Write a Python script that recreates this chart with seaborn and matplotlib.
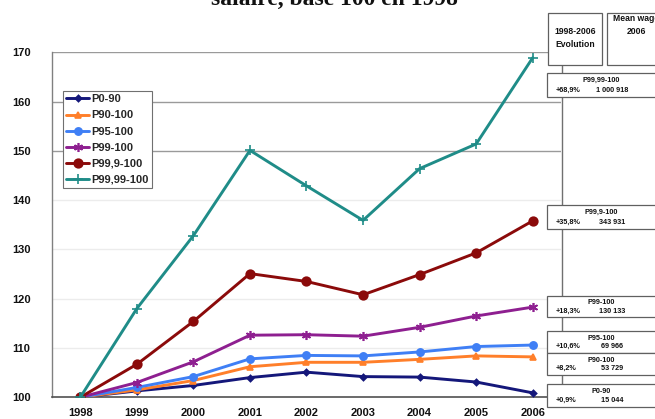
import matplotlib
matplotlib.use("Agg")
import matplotlib.pyplot as plt
import seaborn as sns
import pandas as pd
from matplotlib.patches import Rectangle
from matplotlib.lines import Line2D

sns.set_theme(style="white")
plt.rcParams['font.family'] = ['Liberation Sans', 'DejaVu Sans']

# ---------------- data ----------------
years = [1998, 1999, 2000, 2001, 2002, 2003, 2004, 2005, 2006]
series_names = ["P0-90", "P90-100", "P95-100", "P99-100", "P99,9-100", "P99,99-100"]
p0_90 = [100, 101.3, 102.4, 104.0, 105.1, 104.2, 104.1, 103.1, 100.9]
p90_100 = [100, 101.5, 103.4, 106.2, 107.1, 107.1, 107.7, 108.4, 108.2]
p95_100 = [100, 102.0, 104.2, 107.8, 108.5, 108.4, 109.2, 110.3, 110.6]
p99_100 = [100, 103.0, 107.2, 112.6, 112.7, 112.4, 114.2, 116.5, 118.3]
p999_100 = [100, 106.7, 115.4, 125.1, 123.5, 120.8, 124.9, 129.3, 135.8]
p9999_100 = [100, 118.0, 132.8, 150.1, 142.9, 135.9, 146.4, 151.4, 168.9]
values = [p0_90, p90_100, p95_100, p99_100, p999_100, p9999_100]

title_text = "salaire, base 100 en 1998"
yticks = [100, 110, 120, 130, 140, 150, 160, 170]
header_evol = "1998-2006\nEvolution"
header_wage = "Mean wage\n2006"
box_labels = ["P99,99-100", "P99,9-100", "P99-100", "P95-100", "P90-100", "P0-90"]
box_evol = ["+68,9%", "+35,8%", "+18,3%", "+10,6%", "+8,2%", "+0,9%"]
box_wage = ["1 000 918", "343 931", "130 133", "69 966", "53 729", "15 044"]

# ---------------- styles ----------------
colors = ["#14177a", "#ff7f2a", "#3f7ff5", "#8e1f90", "#8b0a0a", "#1f8c88"]
markers = ["D", "^", "o", (6, 2, 0), "o", "+"]
msizes = [3.2, 5, 5.2, 6.5, 6.2, 7]

W, H = 655, 419
fig = plt.figure(figsize=(W / 100, H / 100), dpi=100)

def fx(px):
    return px / W

def fy(py):
    return 1 - py / H

ax_left, ax_right, ax_top, ax_bottom = 52, 561, 52.3, 397.3
ax = fig.add_axes([fx(ax_left), fy(ax_bottom), fx(ax_right - ax_left), (ax_bottom - ax_top) / H])

df = pd.DataFrame({
    "year": years * len(series_names),
    "value": [v for s in values for v in s],
    "series": [n for n in series_names for _ in years],
})

for name, c, m, ms in zip(series_names, colors, markers, msizes):
    sub = df[df["series"] == name]
    sns.lineplot(data=sub, x="year", y="value", ax=ax, color=c, lw=2.1,
                 marker=m, markersize=ms, markeredgecolor=c, markerfacecolor=c,
                 markeredgewidth=1.2, legend=False, zorder=5)

ax.set_xlim(1997.5, 2006.5)
ax.set_ylim(100, 170)
ax.set_yticks(yticks)
ax.set_xticks(years)
ax.set_xticks([y + 0.5 for y in years[:-1]] + [1997.5], minor=True)
ax.set_xlabel("")
ax.set_ylabel("")

for yv in yticks[1:]:
    col = "#9a9a9a" if yv >= 150 else "#ececec"
    ax.axhline(yv, color=col, lw=1.0, zorder=1)

for s in ["top", "right"]:
    ax.spines[s].set_visible(False)
ax.spines["left"].set_color("#808080")
ax.spines["bottom"].set_color("#505050")
ax.spines["left"].set_linewidth(1.0)
ax.spines["bottom"].set_linewidth(1.2)

ax.tick_params(axis="y", which="major", direction="out", length=3, width=1, color="#808080",
               labelsize=8, pad=12.5)
ax.tick_params(axis="x", which="major", length=0, labelsize=8, pad=8)
ax.tick_params(axis="x", which="minor", direction="out", length=3.5, width=1, color="#606060")
for lab in ax.get_xticklabels() + ax.get_yticklabels():
    lab.set_fontweight("bold")
    lab.set_color("#111111")

# legend
handles = [Line2D([0], [0], color=c, lw=2.1, marker=m, markersize=ms,
                  markeredgecolor=c, markerfacecolor=c, markeredgewidth=1.2)
           for c, m, ms in zip(colors, markers, msizes)]
leg = fig.legend(handles, series_names, loc="upper left",
                 bbox_to_anchor=(fx(62.5), fy(91)), frameon=True, fancybox=False,
                 prop={"weight": "bold", "size": 8}, handlelength=2.1,
                 handletextpad=0.15, labelspacing=0.55, borderpad=0.3,
                 borderaxespad=0, framealpha=1)
leg.get_frame().set_edgecolor("#707070")
leg.get_frame().set_linewidth(0.8)

# title (partially cropped at the top)
fig.text(fx(334), fy(5), title_text, ha="center", va="baseline",
         fontsize=17, fontweight="bold", family="Liberation Serif", color="#111111")

# connector line
fig.add_artist(Line2D([fx(562), fx(562)], [fy(65), fy(384)], color="#707070", lw=1.0,
                      transform=fig.transFigure, zorder=8))

def box(x0, y0, x1, y1):
    r = Rectangle((fx(x0), fy(y1)), fx(x1 - x0), (y1 - y0) / H, transform=fig.transFigure,
                  facecolor="white", edgecolor="#606060", lw=0.9, zorder=9)
    fig.add_artist(r)

# header boxes
box(548, 13, 602, 65)
fig.text(fx(575), fy(38), header_evol, ha="center", va="center", fontsize=6.2,
         fontweight="bold", linespacing=1.5, zorder=10, color="#111111")
box(607, 13, 668, 65)
fig.text(fx(636), fy(14), header_wage, ha="center", va="top", fontsize=6.2,
         fontweight="bold", linespacing=1.5, zorder=10, color="#111111")

box_y = [(73, 97), (205, 229), (296, 317), (331, 353), (353, 375), (384, 407)]
for (y0, y1), lab, ev, wg in zip(box_y, box_labels, box_evol, box_wage):
    box(547, y0, 668, y1)
    h = y1 - y0
    fig.text(fx(601), fy(y0 + h * 0.32), lab, ha="center", va="center", fontsize=5.2,
             fontweight="bold", zorder=10, color="#111111")
    fig.text(fx(556), fy(y0 + h * 0.72), ev, ha="left", va="center", fontsize=5.2,
             fontweight="bold", zorder=10, color="#111111")
    fig.text(fx(612), fy(y0 + h * 0.72), wg, ha="center", va="center", fontsize=5.2,
             fontweight="bold", zorder=10, color="#111111")

fig.savefig("out.png", dpi=100)
